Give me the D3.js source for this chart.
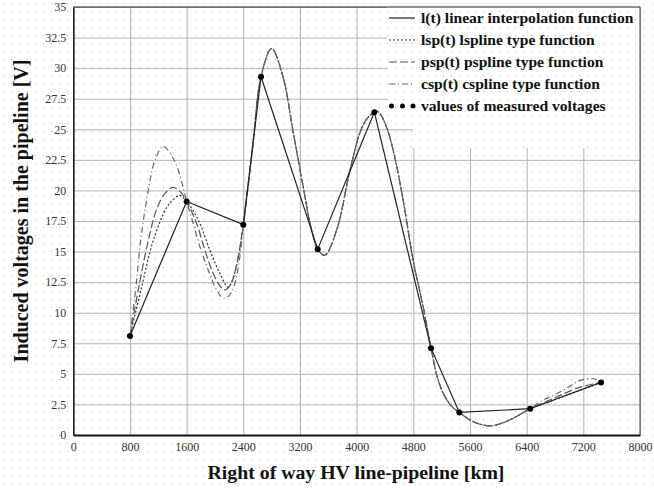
<!DOCTYPE html>
<html>
<head>
<meta charset="utf-8">
<script src="https://cdn.jsdelivr.net/npm/d3@7"></script>
<style>
  body { margin: 0; background: #fff; }
  svg { display: block; }
  .tick text { font-family: "Liberation Serif", "Times New Roman", serif; font-size: 12px; fill: #333; }
  .grid line { stroke: #b4b4b4; stroke-width: 1; }
  .title { font-family: "Liberation Serif", "Times New Roman", serif; font-weight: bold; fill: #111; }
  .legend { font-family: "Liberation Serif", "Times New Roman", serif; font-weight: bold; font-size: 15.6px; fill: #111; }
</style>
</head>
<body>
<script>
// Measured voltages along the pipeline, and the three spline curves.

var width = 654,
    height = 488;

var xTicks = d3.range(0, 8001, 800),
    yTicks = d3.range(0, 35.01, 2.5);

var measX = [800, 1600, 2400, 2650, 3450, 4250, 5050, 5450, 6450, 7450],
    measY = [8.1, 19.1, 17.2, 29.3, 15.2, 26.4, 7.1, 1.85, 2.15, 4.3];

// Part of the curves shared by all three splines (they overlap between 2400 and 6450)
var midX = [2400, 2525, 2650, 2800, 2960, 3100, 3245, 3350, 3450, 3550, 3720, 3900, 4045, 4150, 4250, 4300, 4400, 4515, 4656, 4797, 4938, 5050, 5150, 5250, 5350, 5450, 5640, 5880, 6110, 6300, 6450],
    midY = [17.2, 23.2, 29.3, 31.6, 29.3, 24.9, 20.3, 17.1, 15.2, 14.7, 16.8, 21.5, 24.7, 25.9, 26.4, 26.45, 25.5, 23.3, 19.2, 14.3, 10.5, 7.1, 4.5, 3.1, 2.3, 1.85, 1.1, 0.75, 1.1, 1.65, 2.15];

var lspHeadX = [800, 955, 1129, 1318, 1420, 1505, 1600, 1763, 1929, 2070, 2187, 2281, 2345],
    lspHeadY = [8.1, 11.86, 15.9, 18.6, 19.3, 19.6, 19.1, 17.6, 15.1, 13.2, 12.1, 13.3, 15.0];
var pspHeadX = [800, 917, 1058, 1185, 1300, 1411, 1529, 1600, 1741, 1858, 1975, 2070, 2140, 2220, 2300],
    pspHeadY = [8.1, 11.86, 15.9, 18.6, 19.8, 20.25, 19.76, 19.1, 17.3, 15.1, 13.2, 12.2, 11.86, 12.3, 13.8];
var cspHeadX = [800, 880, 951, 1058, 1150, 1270, 1435, 1529, 1600, 1693, 1787, 1905, 2023, 2116, 2200, 2281, 2352],
    cspHeadY = [8.1, 11.9, 15.9, 20.0, 22.4, 23.6, 22.35, 20.7, 19.1, 17.3, 15.4, 13.5, 11.86, 11.2, 11.4, 12.4, 14.6];

var lspTailX = [6800, 7150, 7450],
    lspTailY = [2.9, 3.65, 4.3];
var pspTailX = [6800, 7150, 7450],
    pspTailY = [3.05, 3.9, 4.3];
var cspTailX = [6630, 6800, 7000, 7150, 7350, 7450],
    cspTailY = [2.85, 3.3, 3.95, 4.45, 4.6, 4.3];

var legendLabels = ['l(t) linear interpolation function',
    'lsp(t) lspline type function',
    'psp(t) pspline type function',
    'csp(t) cspline type function',
    'values of measured voltages'];

var svg = d3.select('body').append('svg')
    .attr('width', width)
    .attr('height', height);

var x = d3.scaleLinear().domain([0, 8000]).range([73.3, 640]),
    y = d3.scaleLinear().domain([0, 35]).range([435, 7]);

// grid
svg.append('g')
    .classed('grid', true)
    .attr('transform', 'translate(0,' + y(0) + ')')
    .call(d3.axisBottom(x).tickValues(xTicks).tickSize(-(y(0) - y(35))).tickFormat(''))
    .call(function(g) { g.select('.domain').remove(); });

svg.append('g')
    .classed('grid', true)
    .attr('transform', 'translate(' + x(0) + ',0)')
    .call(d3.axisLeft(y).tickValues(yTicks).tickSize(-(x(8000) - x(0))).tickFormat(''))
    .call(function(g) { g.select('.domain').remove(); });

// legend background hides the grid behind it
svg.append('rect').attr('x', 387).attr('y', 7).attr('width', 253).attr('height', 104).attr('fill', '#fff');
svg.append('rect').attr('x', 413).attr('y', 7).attr('width', 227).attr('height', 141).attr('fill', '#fff');

// faint dotted texture over the whole picture
var pat = svg.append('defs').append('pattern')
    .attr('id', 'dots')
    .attr('width', 8)
    .attr('height', 8)
    .attr('patternUnits', 'userSpaceOnUse');
pat.append('rect').attr('x', 3).attr('y', 3).attr('width', 1).attr('height', 1).attr('fill', '#b8b8b8');
svg.append('rect').attr('width', width).attr('height', height).attr('fill', 'url(#dots)');

// frame
svg.append('line').attr('x1', x(0)).attr('x2', x(8000)).attr('y1', y(35)).attr('y2', y(35))
    .attr('stroke', '#222').attr('stroke-width', 1);
svg.append('line').attr('x1', x(8000)).attr('x2', x(8000)).attr('y1', y(35)).attr('y2', y(0))
    .attr('stroke', '#444').attr('stroke-width', 1);

// axes
var xAxis = svg.append('g')
    .attr('transform', 'translate(0,' + y(0) + ')')
    .call(d3.axisBottom(x).tickValues(xTicks).tickSize(0).tickPadding(7).tickFormat(d3.format('d')));
xAxis.select('.domain').attr('stroke', '#111').attr('stroke-width', 2);

var yAxis = svg.append('g')
    .attr('transform', 'translate(' + x(0) + ',0)')
    .call(d3.axisLeft(y).tickValues(yTicks).tickSize(0).tickPadding(7).tickFormat(function(d) { return String(d); }));
yAxis.select('.domain').attr('stroke', '#111').attr('stroke-width', 1.5);

// curves
function pts(xs, ys) {
    return xs.map(function(d, i) { return [d, ys[i]]; });
}

var spline = d3.line()
    .curve(d3.curveCatmullRom.alpha(0.5))
    .x(function(d) { return x(d[0]); })
    .y(function(d) { return y(d[1]); });

var linear = d3.line()
    .x(function(d) { return x(d[0]); })
    .y(function(d) { return y(d[1]); });

var midPts = pts(midX, midY),
    midNoEnd = midPts.slice(0, midPts.length - 1);

var curves = [
    {data: pts(lspHeadX, lspHeadY).concat(midNoEnd, [[6450, 2.15]], pts(lspTailX, lspTailY)), dash: '2,2', color: '#333'},
    {data: pts(pspHeadX, pspHeadY).concat(midNoEnd, [[6450, 2.15]], pts(pspTailX, pspTailY)), dash: '8,3', color: '#555'},
    {data: pts(cspHeadX, cspHeadY).concat(midNoEnd, [[6450, 2.15]], pts(cspTailX, cspTailY)), dash: '6,3,1,3', color: '#666'}
];

svg.append('g').selectAll('path')
    .data(curves)
    .enter()
    .append('path')
    .attr('d', function(d) { return spline(d.data); })
    .attr('fill', 'none')
    .attr('stroke', function(d) { return d.color; })
    .attr('stroke-width', 1.2)
    .attr('stroke-dasharray', function(d) { return d.dash; });

svg.append('path')
    .attr('d', linear(pts(measX, measY)))
    .attr('fill', 'none')
    .attr('stroke', '#222')
    .attr('stroke-width', 1.2);

svg.append('g').selectAll('circle')
    .data(pts(measX, measY))
    .enter()
    .append('circle')
    .attr('cx', function(d) { return x(d[0]); })
    .attr('cy', function(d) { return y(d[1]); })
    .attr('r', 3)
    .attr('fill', '#000');

// axis titles
svg.append('text')
    .classed('title', true)
    .attr('x', 356)
    .attr('y', 479)
    .attr('text-anchor', 'middle')
    .style('font-size', '19.8px')
    .text('Right of way HV line-pipeline [km]');

svg.append('text')
    .classed('title', true)
    .attr('transform', 'translate(28,' + 211 + ') rotate(-90)')
    .attr('text-anchor', 'middle')
    .style('font-size', '20px')
    .text('Induced voltages in the pipeline [V]');

// legend
var legendStyles = [
    {dash: null, color: '#222'},
    {dash: '2,2', color: '#333'},
    {dash: '8,3', color: '#555'},
    {dash: '6,3,1,3', color: '#666'}
];
var leg = svg.append('g');
legendLabels.forEach(function(label, i) {
    var yy = 18 + 22 * i;
    if (i < 4) {
        leg.append('line')
            .attr('x1', 389).attr('x2', 415)
            .attr('y1', yy).attr('y2', yy)
            .attr('stroke', legendStyles[i].color)
            .attr('stroke-width', 1.2)
            .attr('stroke-dasharray', legendStyles[i].dash);
    } else {
        [391.5, 402.5, 413].forEach(function(cx) {
            leg.append('circle').attr('cx', cx).attr('cy', yy).attr('r', 2.5).attr('fill', '#000');
        });
    }
    leg.append('text')
        .classed('legend', true)
        .attr('x', 421)
        .attr('y', yy + 5)
        .text(label);
});
</script>
</body>
</html>
